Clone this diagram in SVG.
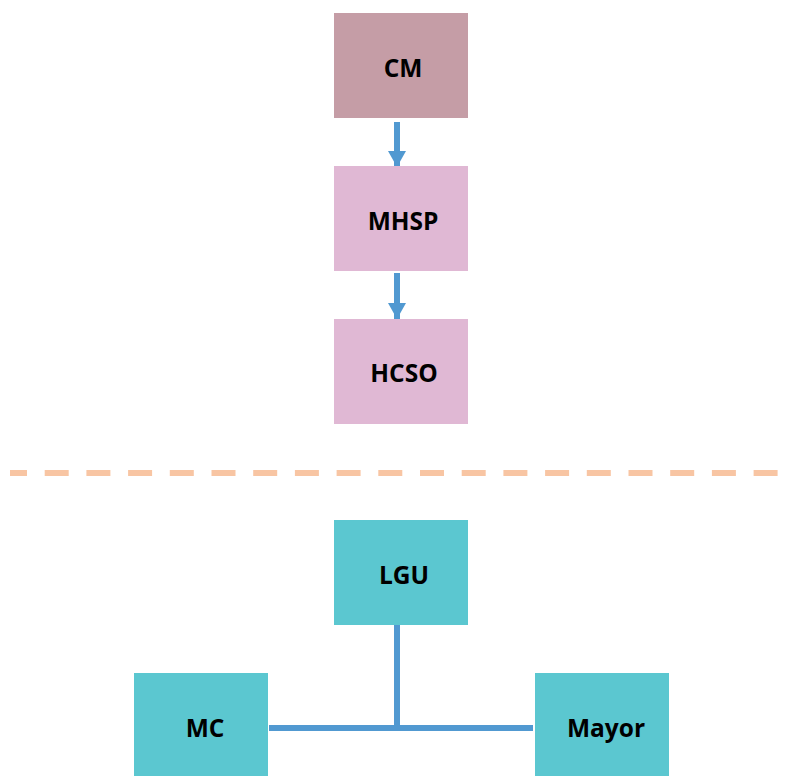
<svg xmlns="http://www.w3.org/2000/svg" width="797" height="776" viewBox="0 0 797 776">
<style>
.lbl{font-family:"Open Sans","Liberation Sans",sans-serif;font-weight:bold;font-size:24.5px;fill:#000;text-anchor:middle}
.con{stroke:#5199D1;stroke-width:6;fill:none}
</style>
<defs>
<marker id="ah" markerUnits="userSpaceOnUse" markerWidth="18" markerHeight="18" refX="16" refY="9" orient="auto">
<path d="M0,0 L16,9 L0,18 Z" fill="#5199D1"/>
</marker>
</defs>
<rect width="797" height="776" fill="#fff"/>
<line x1="10" y1="473" x2="790" y2="473" stroke="#F8C5A3" stroke-width="6" stroke-dasharray="24 17.7" stroke-dashoffset="7"/>
<g id="connectors">
<line class="con" x1="397" y1="122" x2="397" y2="167" marker-end="url(#ah)"/>
<line class="con" x1="397" y1="273" x2="397" y2="319" marker-end="url(#ah)"/>
<line class="con" x1="397" y1="625" x2="397" y2="731"/>
<line class="con" x1="269" y1="728" x2="533" y2="728"/>
</g>
<g id="CM"><rect x="334" y="13" width="134" height="105" fill="#C59DA6"/><text class="lbl" x="403" y="77">CM</text></g>
<g id="MHSP"><rect x="334" y="166" width="134" height="105" fill="#E0B8D4"/><text class="lbl" x="403" y="230">MHSP</text></g>
<g id="HCSO"><rect x="334" y="319" width="134" height="105" fill="#E0B8D4"/><text class="lbl" x="404" y="382">HCSO</text></g>
<g id="LGU"><rect x="334" y="520" width="134" height="105" fill="#5BC7D0"/><text class="lbl" x="404" y="584">LGU</text></g>
<g id="MC"><rect x="134" y="673" width="134" height="103" fill="#5BC7D0"/><text class="lbl" x="205" y="737">MC</text></g>
<g id="Mayor"><rect x="535" y="673" width="134" height="103" fill="#5BC7D0"/><text class="lbl" x="606" y="737">Mayor</text></g>
</svg>
